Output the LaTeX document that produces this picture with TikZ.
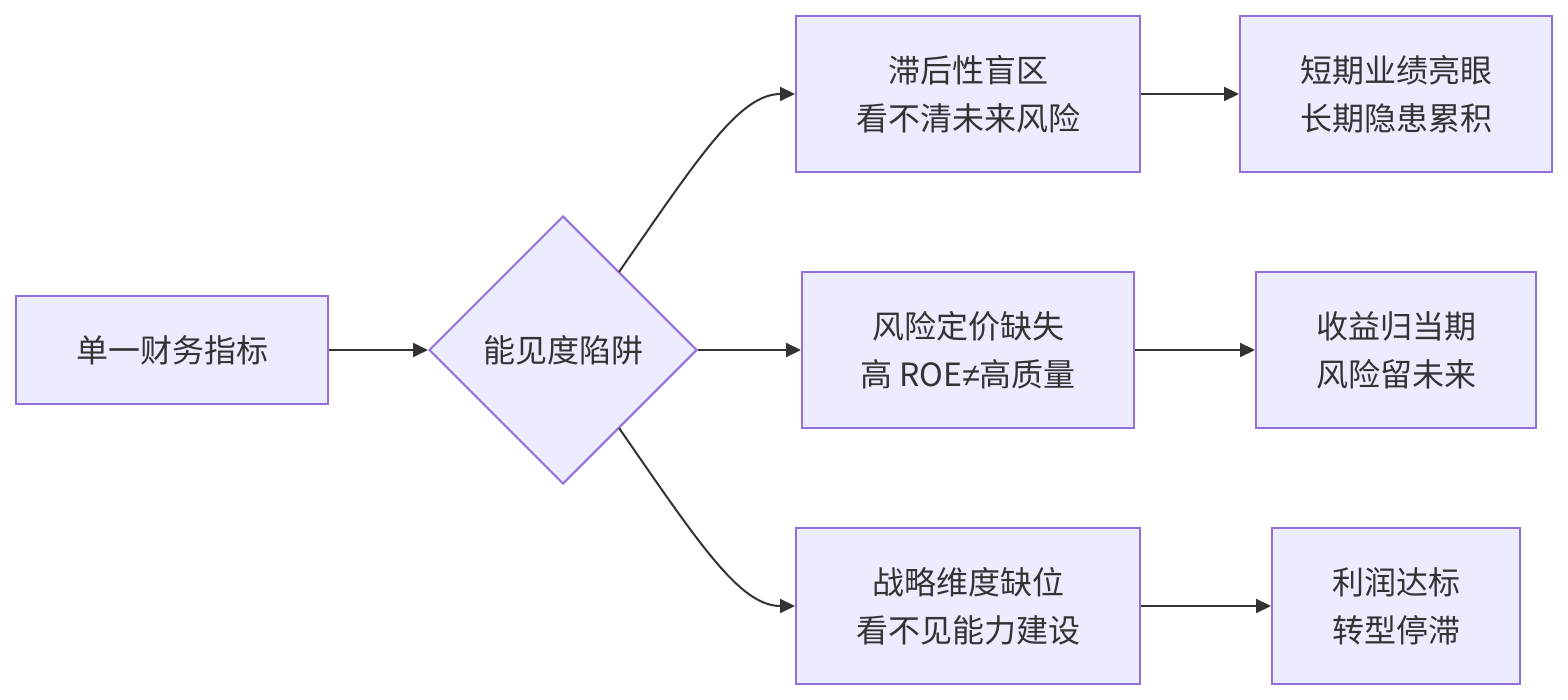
\documentclass[tikz,border=0pt]{standalone}
\usepackage{fontspec}
\newfontfamily\cjk{Noto Sans CJK SC}
\newfontfamily\lat{Liberation Sans}
\usetikzlibrary{shapes.geometric,arrows.meta}
\definecolor{nodefill}{HTML}{ECECFF}
\definecolor{nodeline}{HTML}{9370DB}
\definecolor{txt}{HTML}{333333}
\tikzset{
  box/.style={draw=nodeline,fill=nodefill,line width=2pt,inner sep=0pt,
    text=txt,font=\cjk\fontsize{32}{48}\selectfont,align=center},
  dia/.style={box,diamond,aspect=1,minimum width=268pt,minimum height=268pt},
  link/.style={draw=txt,line width=2pt,-{Triangle[length=15pt,width=14pt]}}
}
\begin{document}
\begin{tikzpicture}[x=1pt,y=-1pt]
\useasboundingbox (0,0) rectangle (1568,700);
\node[box,minimum width=312pt,minimum height=108pt] (A) at (172,350) {单一财务指标};
\node[dia] (D) at (563,350) {能见度陷阱};
\node[box,minimum width=344pt,minimum height=156pt] (B1) at (968,94) {滞后性盲区\\看不清未来风险};
\node[box,minimum width=332pt,minimum height=156pt] (B2) at (968,350) {风险定价缺失\\高 ROE{\lat ≠}高质量};
\node[box,minimum width=344pt,minimum height=156pt] (B3) at (968,606) {战略维度缺位\\看不见能力建设};
\node[box,minimum width=312pt,minimum height=156pt] (C1) at (1396,94) {短期业绩亮眼\\长期隐患累积};
\node[box,minimum width=280pt,minimum height=156pt] (C2) at (1396,350) {收益归当期\\风险留未来};
\node[box,minimum width=248pt,minimum height=156pt] (C3) at (1396,606) {利润达标\\转型停滞};
\coordinate (Du) at (619,272);
\coordinate (Dd) at (619,428);
\draw[link] (A.east) -- (D.west);
\draw[link] (D.east) -- (B2.west);
\draw[link] (Du) .. controls (700,155) and (740,94) .. (B1.west);
\draw[link] (Dd) .. controls (700,545) and (740,606) .. (B3.west);
\draw[link] (B1.east) -- (C1.west);
\draw[link] (B2.east) -- (C2.west);
\draw[link] (B3.east) -- (C3.west);
\end{tikzpicture}
\end{document}
